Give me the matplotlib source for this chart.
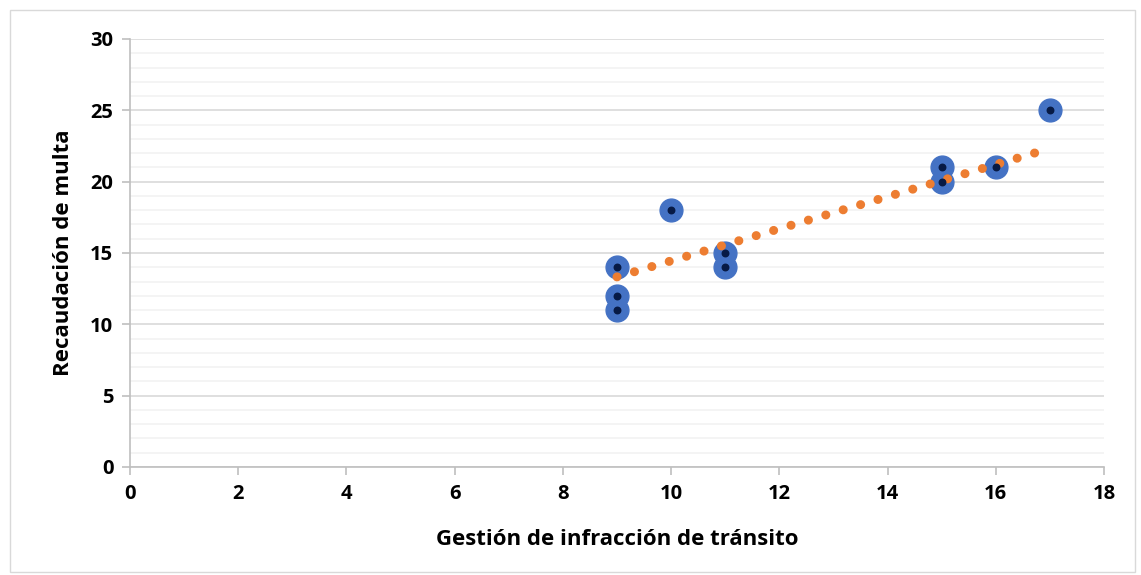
import numpy as np
import matplotlib
matplotlib.use('Agg')
import matplotlib.pyplot as plt
from matplotlib.patches import Rectangle

# data
gestion = [9, 9, 9, 10, 11, 11, 15, 15, 16, 17]
recaudacion = [14, 12, 11, 18, 15, 14, 21, 20, 21, 25]

# linear trendline as drawn in the chart
trend_slope = 1.125
trend_intercept = 3.2
trend_x = [9, 17]

plt.rcParams['font.family'] = ['Open Sans', 'DejaVu Sans']
plt.rcParams['font.weight'] = 'bold'

fig = plt.figure(figsize=(11.41, 5.75), dpi=100)
ax = fig.add_axes([130/1141, 1 - 467/575, (1104-130)/1141, (467-39)/575])

# chart area border
fig.patches.append(Rectangle((10/1141, 3/575), 1 - 16/1141, 1 - 13/575,
                             transform=fig.transFigure, fill=False,
                             edgecolor='#D9D9D9', linewidth=1))

# gridlines
ax.set_xlim(0, 18)
ax.set_ylim(0, 30)
ax.set_xticks(np.arange(0, 19, 2))
ax.set_yticks(np.arange(0, 31, 5))
ax.set_yticks(np.arange(0, 31, 1), minor=True)
ax.grid(axis='y', which='minor', color='#F2F2F2', linewidth=1.2)
ax.grid(axis='y', which='major', color='#D9D9D9', linewidth=1.2)
ax.set_axisbelow(True)
ax.tick_params(axis='y', which='minor', length=0)
ax.tick_params(which='major', length=6, width=1.2, color='#BFBFBF',
               labelsize=14.5, pad=6)

for side in ['top', 'right']:
    ax.spines[side].set_visible(False)
for side in ['left', 'bottom']:
    ax.spines[side].set_color('#BFBFBF')
    ax.spines[side].set_linewidth(1.2)

# trendline
tx = np.array(trend_x, dtype=float)
ty = trend_slope * tx + trend_intercept
ax.plot(tx, ty, color='#ED7D31', linewidth=6.5, linestyle=(0, (0.01, 2.0)),
        dash_capstyle='round', zorder=3)

# points
ax.scatter(gestion, recaudacion, s=270, color='#4472C4', zorder=2)
ax.scatter(gestion, recaudacion, s=22, color='#071A45', zorder=4)

ax.set_xlabel('Gestión de infracción de tránsito', fontsize=16, fontweight='bold', labelpad=18)
ax.set_ylabel('Recaudación de multa', fontsize=16, fontweight='bold', labelpad=12)

fig.savefig('out.png', dpi=100)
